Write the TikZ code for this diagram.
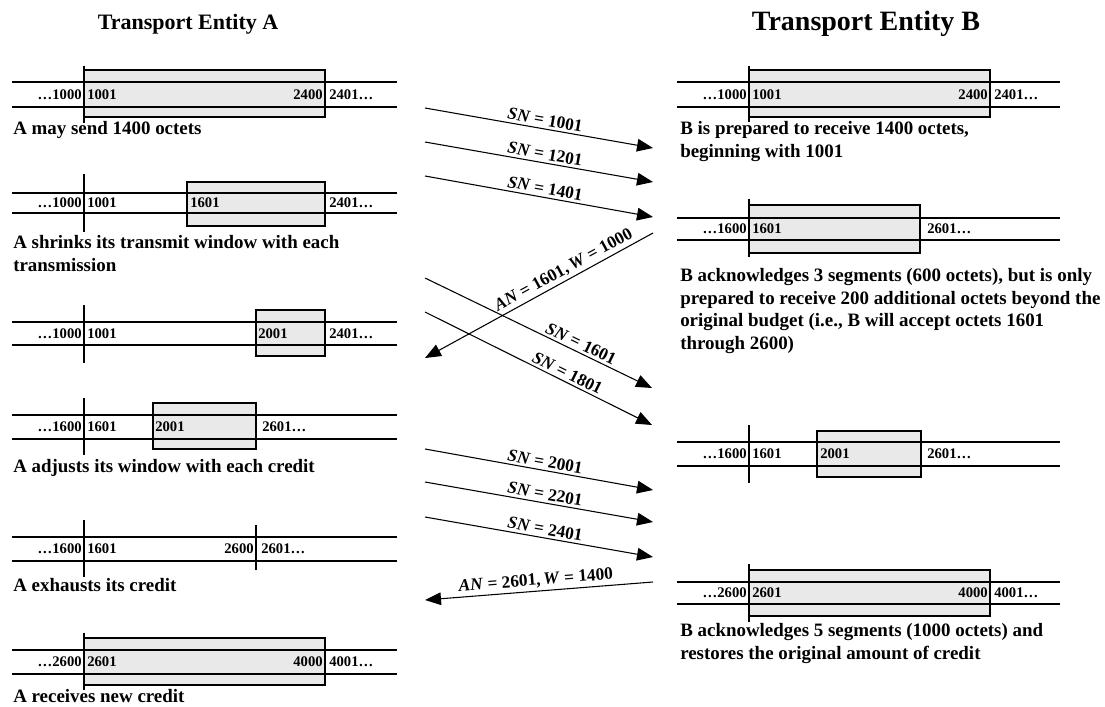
\documentclass[tikz,border=0pt]{standalone}
\usepackage{fontspec}
\setmainfont{Liberation Serif}
\usetikzlibrary{arrows.meta}
\begin{document}
\begin{tikzpicture}[x=0.75pt,y=-0.75pt,
  rail/.style={line width=1.9pt},
  bar/.style={line width=1.9pt},
  thinbar/.style={line width=1.2pt},
  winbox/.style={draw, line width=1pt, fill=gray!17},
  num/.style={font=\fontsize{11}{12}\selectfont\bfseries, inner sep=0pt},
  captxt/.style={font=\fontsize{14.2}{17}\selectfont\bfseries, inner sep=0pt, anchor=north west, align=left},
  msg/.style={line width=0.8pt, -{Triangle[length=12pt,width=9.5pt]}},
  lbl/.style={font=\fontsize{13}{14}\selectfont\bfseries, sloped, above, inner sep=2pt},
  ttl/.style={inner sep=0pt}]
\path[use as bounding box] (0,0) rectangle (1105,706);

% titles
\node[ttl, font=\fontsize{16.5}{18}\selectfont\bfseries] (tA) at (188,24) {Transport Entity A};
\node[ttl, font=\fontsize{21}{24}\selectfont\bfseries] (tB) at (866,24) {Transport Entity B};

% ---------- Entity A ----------
% A1
\draw[winbox] (84,70) rectangle (325,117);
\draw[rail] (12,82) -- (397,82);
\draw[rail] (12,107) -- (397,107);
\draw[bar] (84,66) -- (84,123);
\node[num, anchor=east] (a1l) at (82,94.5) {…1000};
\node[num, anchor=west] (a1s) at (87,94.5) {1001};
\node[num, anchor=east] (a1e) at (323,94.5) {2400};
\node[num, anchor=west] (a1r) at (329,94.5) {2401…};
\node[captxt] (a1c) at (13,121) {A may send 1400 octets};

% A2
\draw[winbox] (187,182) rectangle (325,226);
\draw[rail] (12,193) -- (397,193);
\draw[rail] (12,213) -- (397,213);
\draw[bar] (84,174) -- (84,232);
\node[num, anchor=east] (a2l) at (82,203) {…1000};
\node[num, anchor=west] (a2s) at (87,203) {1001};
\node[num, anchor=west] (a2m) at (190,203) {1601};
\node[num, anchor=west] (a2r) at (329,203) {2401…};
\node[captxt] (a2c) at (13,235) {A shrinks its transmit window with each\\transmission};

% A3
\draw[winbox] (256,310) rectangle (325,356);
\draw[rail] (12,322) -- (397,322);
\draw[rail] (12,345) -- (397,345);
\draw[bar] (84,305) -- (84,363);
\node[num, anchor=east] (a3l) at (82,333.5) {…1000};
\node[num, anchor=west] (a3s) at (87,333.5) {1001};
\node[num, anchor=west] (a3m) at (258,333.5) {2001};
\node[num, anchor=west] (a3r) at (329,333.5) {2401…};

% A4
\draw[winbox] (153,403) rectangle (256,449);
\draw[rail] (12,415) -- (397,415);
\draw[rail] (12,439) -- (397,439);
\draw[bar] (84,398) -- (84,455);
\node[num, anchor=east] (a4l) at (82,427) {…1600};
\node[num, anchor=west] (a4s) at (87,427) {1601};
\node[num, anchor=west] (a4m) at (155,427) {2001};
\node[num, anchor=west] (a4r) at (262,427) {2601…};
\node[captxt] (a4c) at (13,459) {A adjusts its window with each credit};

% A5
\draw[rail] (12,537) -- (397,537);
\draw[rail] (12,561) -- (397,561);
\draw[bar] (84,520) -- (84,577);
\draw[thinbar] (256,525) -- (256,570);
\node[num, anchor=east] (a5l) at (82,549) {…1600};
\node[num, anchor=west] (a5s) at (87,549) {1601};
\node[num, anchor=east] (a5e) at (254,549) {2600};
\node[num, anchor=west] (a5r) at (261,549) {2601…};
\node[captxt] (a5c) at (13,578) {A exhausts its credit};

% A6
\draw[winbox] (84,638) rectangle (325,685);
\draw[rail] (12,650) -- (397,650);
\draw[rail] (12,674) -- (397,674);
\draw[bar] (84,633) -- (84,690);
\node[num, anchor=east] (a6l) at (82,662) {…2600};
\node[num, anchor=west] (a6s) at (87,662) {2601};
\node[num, anchor=east] (a6e) at (323,662) {4000};
\node[num, anchor=west] (a6r) at (329,662) {4001…};
\node[captxt] (a6c) at (13,689) {A receives new credit};

% ---------- Entity B ----------
% B1
\draw[winbox] (749,70) rectangle (990,117);
\draw[rail] (677,82) -- (1060,82);
\draw[rail] (677,107) -- (1060,107);
\draw[bar] (749,66) -- (749,122);
\node[num, anchor=east] (b1l) at (747,94.5) {…1000};
\node[num, anchor=west] (b1s) at (752,94.5) {1001};
\node[num, anchor=east] (b1e) at (988,94.5) {2400};
\node[num, anchor=west] (b1r) at (994,94.5) {2401…};
\node[captxt] (b1c) at (680,121) {B is prepared to receive 1400 octets,\\beginning with 1001};

% B2
\draw[winbox] (749,205) rectangle (920,253);
\draw[rail] (677,218) -- (1060,218);
\draw[rail] (677,240) -- (1060,240);
\draw[bar] (749,199) -- (749,257);
\node[num, anchor=east] (b2l) at (747,229) {…1600};
\node[num, anchor=west] (b2s) at (752,229) {1601};
\node[num, anchor=west] (b2r) at (927,229) {2601…};
\node[captxt] (b2c) at (680,268) {B acknowledges 3 segments (600 octets), but is only\\prepared to receive 200 additional octets beyond the\\original budget (i.e., B will accept octets 1601\\through 2600)};

% B3
\draw[winbox] (817,431) rectangle (921,477);
\draw[rail] (677,442) -- (1060,442);
\draw[rail] (677,466) -- (1060,466);
\draw[bar] (749,425) -- (749,483);
\node[num, anchor=east] (b3l) at (747,454) {…1600};
\node[num, anchor=west] (b3s) at (752,454) {1601};
\node[num, anchor=west] (b3m) at (820,454) {2001};
\node[num, anchor=west] (b3r) at (927,454) {2601…};

% B4
\draw[winbox] (749,570) rectangle (990,616);
\draw[rail] (677,582) -- (1060,582);
\draw[rail] (677,604) -- (1060,604);
\draw[bar] (749,564) -- (749,622);
\node[num, anchor=east] (b4l) at (747,593) {…2600};
\node[num, anchor=west] (b4s) at (752,593) {2601};
\node[num, anchor=east] (b4e) at (988,593) {4000};
\node[num, anchor=west] (b4r) at (994,593) {4001…};
\node[captxt] (b4c) at (680,623) {B acknowledges 5 segments (1000 octets) and\\restores the original amount of credit};

% ---------- messages ----------
\coordinate (m1s) at (425,108); \coordinate (m1e) at (653,148);
\coordinate (m2s) at (425,142); \coordinate (m2e) at (653,182);
\coordinate (m3s) at (425,176); \coordinate (m3e) at (653,217);
\coordinate (k1s) at (653,233); \coordinate (k1e) at (425,358);
\coordinate (m4s) at (425,278); \coordinate (m4e) at (652,388);
\coordinate (m5s) at (425,312); \coordinate (m5e) at (652,425);
\coordinate (m6s) at (425,449); \coordinate (m6e) at (653,490);
\coordinate (m7s) at (425,482); \coordinate (m7e) at (653,522);
\coordinate (m8s) at (425,517); \coordinate (m8e) at (653,557);
\coordinate (k2s) at (653,582); \coordinate (k2e) at (425,600);

\draw[msg] (m1s) -- node[lbl, pos=0.52] (l1) {\textit{SN} = 1001} (m1e);
\draw[msg] (m2s) -- node[lbl, pos=0.52] (l2) {\textit{SN} = 1201} (m2e);
\draw[msg] (m3s) -- node[lbl, pos=0.52] (l3) {\textit{SN} = 1401} (m3e);
\draw[msg] (k1s) -- node[lbl, pos=0.37] (l4) {\textit{AN} = 1601,\,\textit{W} = 1000} (k1e);
\draw[msg] (m4s) -- node[lbl, pos=0.67] (l5) {\textit{SN} = 1601} (m4e);
\draw[msg] (m5s) -- node[lbl, pos=0.61] (l6) {\textit{SN} = 1801} (m5e);
\draw[msg] (m6s) -- node[lbl, pos=0.52] (l7) {\textit{SN} = 2001} (m6e);
\draw[msg] (m7s) -- node[lbl, pos=0.52] (l8) {\textit{SN} = 2201} (m7e);
\draw[msg] (m8s) -- node[lbl, pos=0.52] (l9) {\textit{SN} = 2401} (m8e);
\draw[msg] (k2s) -- node[lbl, pos=0.51] (l10) {\textit{AN} = 2601,\,\textit{W} = 1400} (k2e);
\end{tikzpicture}
\end{document}
